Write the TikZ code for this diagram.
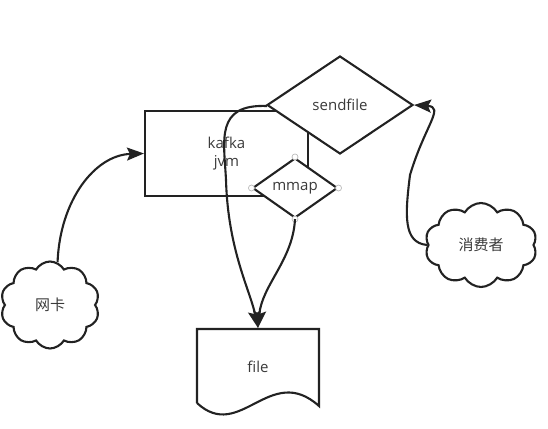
\documentclass[tikz,border=0pt]{standalone}
\usepackage{fontspec}
\setmainfont{Open Sans}
\newfontfamily\cjk{Noto Sans CJK SC}
\usetikzlibrary{positioning,arrows.meta,shapes.geometric,shapes.symbols}

\definecolor{ink}{HTML}{222222}
\definecolor{txt}{HTML}{3A3A3A}

\begin{document}
\begin{tikzpicture}[
    x=1pt, y=-1pt,
    >={Stealth[length=17pt,width=13pt,inset=3pt]},
    line width=2.1pt, draw=ink,
    every node/.style={font=\fontsize{15}{18}\selectfont, text=txt, align=center},
    box/.style={draw, rectangle, line width=2.1pt, minimum width=163pt, minimum height=85pt},
    dia/.style={draw, diamond, fill=white, line width=2.1pt, inner sep=0pt},
    puff/.style={draw, cloud, cloud puffs=10, cloud puff arc=120, line width=2.1pt, inner sep=0pt},
    handle/.style={draw=gray!55, line width=0.7pt, fill=white},
    conn/.style={->, line width=2.1pt}
  ]
    \useasboundingbox (0,0) rectangle (548,428);
    % Nodes
    \node[box] (jvm) at (226.5,153.5) {kafka\\jvm};
    \node[puff, minimum width=99pt, minimum height=87pt] (nic) at (50,305) {\cjk 网卡};
    \node[puff, minimum width=112pt, minimum height=84pt] (consumer) at (481,245) {\cjk 消费者};
    % file document
    \draw (197,403) -- (197,329) -- (319,329) -- (319,406)
      .. controls (270,362) and (240,443) .. (197,403);
    \node[minimum width=122pt, minimum height=76pt, inner sep=0pt] (file) at (258,367) {file};
    % sendfile path to file (drawn before the diamonds)
    \coordinate (sfw) at (267,106);
    \coordinate (sfbend) at (226,180);
    \draw[conn] (sfw) .. controls (215,104) and (224,140) .. (sfbend)
      .. controls (228,250) and (250,290) .. (file.north);
    % Diamonds
    \node[dia, minimum width=146pt, minimum height=98pt] (sendfile) at (340,105) {sendfile};
    \node[dia, minimum width=85pt, minimum height=60pt] (mmap) at (295,188) {mmap};
    \foreach \a in {north,south,east,west}
      \draw[handle] (mmap.\a) circle (3pt);
    % Arrows
    \coordinate (mid) at (410,175);
    \draw[conn] (nic.80) .. controls (60,200) and (95,155) .. (jvm.west);
    \draw[conn] (consumer.west) .. controls (403,243) and (405,215) .. (mid)
      .. controls (425,125) and (445,107) .. (sendfile.east);
    \draw[conn] (mmap.south) .. controls (293,260) and (262,285) .. (file.north);
  \end{tikzpicture}
\end{document}
